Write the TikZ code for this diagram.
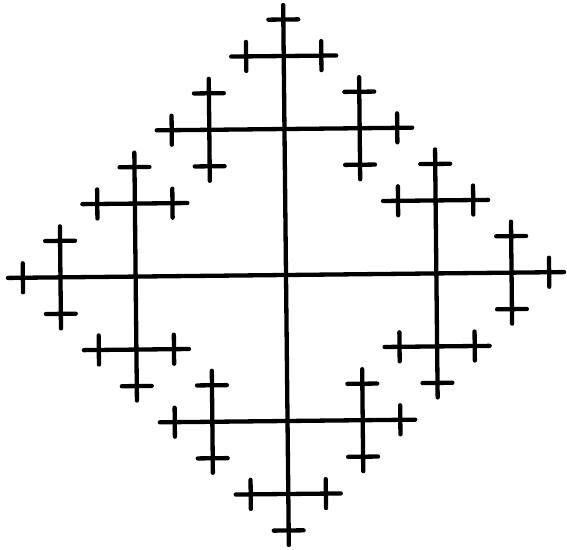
\documentclass[tikz,border=0pt]{standalone}

% one twig: a bar across the heading, then three smaller twigs on it
\newcommand\twig[2]{%
  \draw[limb] (0,-#1) -- (0,#1);
  \ifdim#1pt>20pt
    \pgfmathsetmacro\nextarm{#1-#2}%
    \pgfmathsetmacro\nextgap{#2/2}%
    \foreach \turn in {0,90,-90}{%
      \begin{scope}[rotate=\turn, shift={(#2,0)}]
        \edef\next{\noexpand\twig{\nextarm}{\nextgap}}\next
      \end{scope}
    }%
  \fi
}

\begin{document}
\begin{tikzpicture}[
		x=1pt, y=1pt,
		limb/.style={line width=4.3pt, line cap=round}
		]
		\useasboundingbox (-286,-274) rectangle (281,275);
		
		\begin{scope}[rotate=0.6, xscale=1.03]
		% Main cross
		\draw[limb] (-270,0) -- (270,0);
		\draw[limb] (0,-270) -- (0,270);
		
		% Four branches
		\foreach \turn in {0,90,180,270}{
			\begin{scope}[rotate=\turn, shift={(146,0)}]
				\twig{124}{73}
			\end{scope}
		}
		\end{scope}
		
	\end{tikzpicture}
\end{document}
